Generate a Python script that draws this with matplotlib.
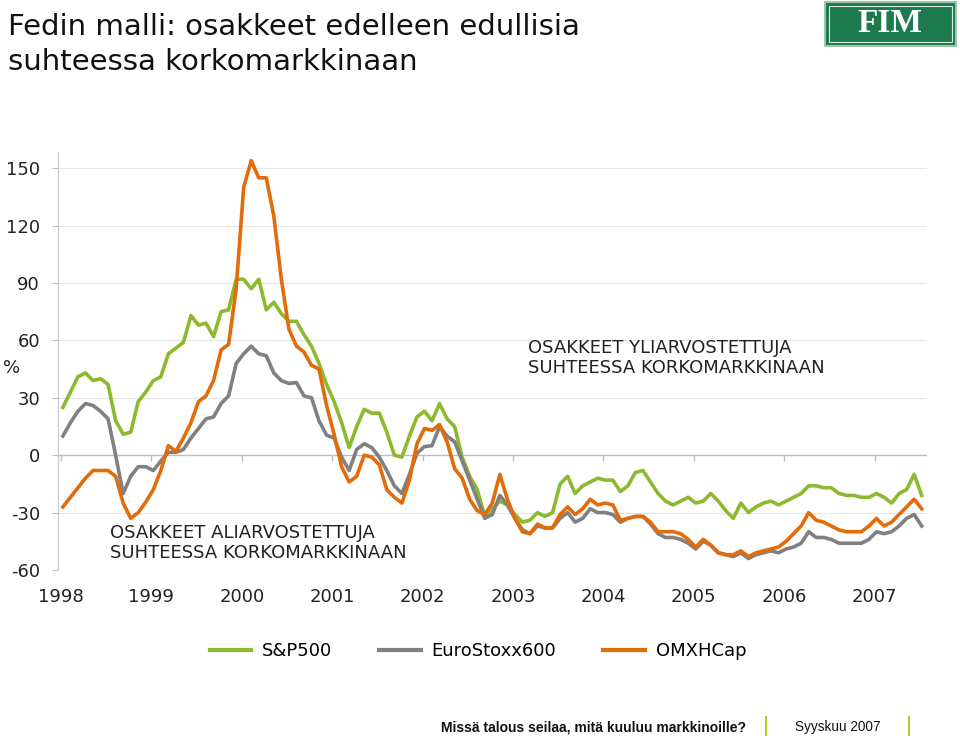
import matplotlib
matplotlib.use("Agg")
import matplotlib.pyplot as plt
from matplotlib.patches import Rectangle
import numpy as np

# ---- data (monthly, Jan 1998 .. Jul 2007) ----
start_year = 1998
sp500 = [25, 33, 41, 43, 39, 40, 37, 18, 11, 12, 28, 33, 39, 41, 53, 56, 59, 73, 68, 69,
         62, 75, 76, 92, 92, 87, 92, 76, 80, 74, 70, 70, 63, 57, 48, 37, 28, 17, 4, 15,
         24, 22, 22, 12, 0, -1, 10, 20, 23, 18, 27, 19, 15, -1, -11, -18, -32, -28, -24, -26,
         -31, -35, -34, -30, -32, -30, -15, -11, -20, -16, -14, -12, -13, -13, -19, -16, -9, -8, -14, -20,
         -24, -26, -24, -22, -25, -24, -20, -24, -29, -33, -25, -30, -27, -25, -24, -26, -24, -22, -20, -16,
         -16, -17, -17, -20, -21, -21, -22, -22, -20, -22, -25, -20, -18, -10, -21]
eurostoxx600 = [10, 17, 23, 27, 26, 23, 19, 0, -20, -11, -6, -6, -8, -3, 1.5, 1.5, 3, 9, 14, 19,
                20, 27, 31, 48, 53, 57, 53, 52, 43, 39, 37.5, 38, 31, 30, 18, 10.5, 9, -1, -8, 3,
                6, 4, -1, -8, -16, -20, -10, 1, 4.5, 5, 15, 10, 7, -3, -13, -23, -33, -31, -21, -26,
                -33, -39, -41, -37, -38, -38, -33, -30, -35, -33, -28, -30, -30, -31, -35, -33, -32, -32, -36, -41,
                -43, -43, -44, -46, -49, -45, -47, -51, -52, -53, -51, -54, -52, -51, -50, -51, -49, -48, -46, -40,
                -43, -43, -44, -46, -46, -46, -46, -44, -40, -41, -40, -37, -33, -31, -37]
omxhcap = [-27, -22, -17, -12, -8, -8, -8, -11, -25, -33, -30, -24.5, -18, -8, 5, 2, 9, 17, 28, 31,
           39, 55, 58, 87, 140, 154, 145, 145, 125, 92, 66, 57, 54, 47, 45, 26, 11, -6, -14, -11,
           0, -1, -5, -18, -22, -25, -13, 6, 14, 13, 16, 7, -7, -12, -23, -29, -31, -25, -10, -23,
           -33, -40, -41, -36, -38, -38, -31, -27, -31, -28, -23, -26, -25, -26, -34, -33, -32, -32, -35, -40,
           -40, -40, -41, -44, -48, -44, -47, -51, -52, -52, -50, -53, -51, -50, -49, -48, -45, -41, -37, -30,
           -34, -35, -37, -39, -40, -40, -40, -37, -33, -37, -35, -31, -27, -23, -28]
series_names = ["S&P500", "EuroStoxx600", "OMXHCap"]
series_colors = ["#8db92e", "#808080", "#e36c0a"]
year_labels = ["1998", "1999", "2000", "2001", "2002", "2003", "2004", "2005", "2006", "2007"]
y_ticks = [-60, -30, 0, 30, 60, 90, 120, 150]

dates = start_year + (np.arange(len(sp500)) + 0.25) / 12.0

W, H = 960, 738
fig = plt.figure(figsize=(W / 100, H / 100), dpi=100)
plt.rcParams['font.family'] = ['DejaVu Sans']

ax = fig.add_axes([58 / W, 1 - 570 / H, (927 - 58) / W, (570 - 152) / H])
for vals, name, col in zip([sp500, eurostoxx600, omxhcap], series_names, series_colors):
    ax.plot(dates, vals, color=col, lw=2.6, label=name, solid_joinstyle='round', zorder=3)

ax.set_xlim(1998 - 3 / 90.4, 1998 + 866 / 90.4)
ax.set_ylim(-60, 158.5)
ax.set_yticks(y_ticks)
ax.set_yticklabels([str(v) for v in y_ticks], fontsize=13, color="#222222")
years = [int(y) for y in year_labels]
ax.set_xticks(years)
ax.set_xticklabels(year_labels, fontsize=13, color="#222222")
ax.tick_params(axis='x', length=0, pad=13)
ax.tick_params(axis='y', length=4, color="#bbbbbb", pad=9)
for s in ['top', 'right', 'bottom']:
    ax.spines[s].set_visible(False)
ax.spines['left'].set_color("#c8c8c8")
for v in y_ticks:
    if v != 0:
        ax.axhline(v, color="#e6e6e6", lw=0.8, zorder=0)
ax.axhline(0, color="#bdbdbd", lw=1.0, zorder=1)
ax.vlines(years, -2.8, 0, color="#bdbdbd", lw=1.0, zorder=1)

# annotations
fig.text(528 / W, 1 - 358 / H, "OSAKKEET YLIARVOSTETTUJA\nSUHTEESSA KORKOMARKKINAAN",
         fontsize=13, va='center', ha='left', color="#222222", linespacing=1.15)
fig.text(110 / W, 1 - 543 / H, "OSAKKEET ALIARVOSTETTUJA\nSUHTEESSA KORKOMARKKINAAN",
         fontsize=13, va='center', ha='left', color="#222222", linespacing=1.15)
fig.text(3 / W, 1 - 368 / H, "%", fontsize=13, va='center', ha='left', color="#222222")

# title
fig.text(8 / W, 1 - 27 / H, "Fedin malli: osakkeet edelleen edullisia", fontsize=21,
         va='center', ha='left', color="#111111")
fig.text(8 / W, 1 - 62 / H, "suhteessa korkomarkkinaan", fontsize=21,
         va='center', ha='left', color="#111111")

# logo
fig.patches.append(Rectangle((825 / W, 1 - 46 / H), 131 / W, 44 / H, transform=fig.transFigure,
                             facecolor="#1c7a4c", edgecolor="#9cc7ad", lw=1.5))
fig.patches.append(Rectangle((829 / W, 1 - 42 / H), 123 / W, 36 / H, transform=fig.transFigure,
                             facecolor="none", edgecolor="#d8eadf", lw=0.8))
fig.text(890 / W, 1 - 24 / H, "FIM", fontsize=24, fontweight='bold', family='Liberation Serif',
         color='white', ha='center', va='center')

# legend
leg = fig.legend(*ax.get_legend_handles_labels(), loc='center', bbox_to_anchor=(478 / W, 1 - 651 / H),
                 ncol=3, frameon=False, fontsize=13, handlelength=2.3, columnspacing=2.6,
                 handletextpad=0.6)
for l in leg.get_lines():
    l.set_linewidth(3)

# footer
fig.text(441 / W, 1 - 727 / H, "Missä talous seilaa, mitä kuuluu markkinoille?", fontsize=10,
         fontweight='bold', ha='left', va='center', color="#111111", family='Liberation Sans')
fig.text(795 / W, 1 - 727 / H, "Syyskuu 2007", fontsize=9.8, ha='left', va='center',
         color="#111111", family='Liberation Sans')
for xb in (765, 908):
    fig.patches.append(Rectangle((xb / W, 1 - 736 / H), 2 / W, 20 / H, transform=fig.transFigure,
                                 facecolor="#b8c82a", edgecolor='none'))

fig.savefig("out.png", dpi=100)
